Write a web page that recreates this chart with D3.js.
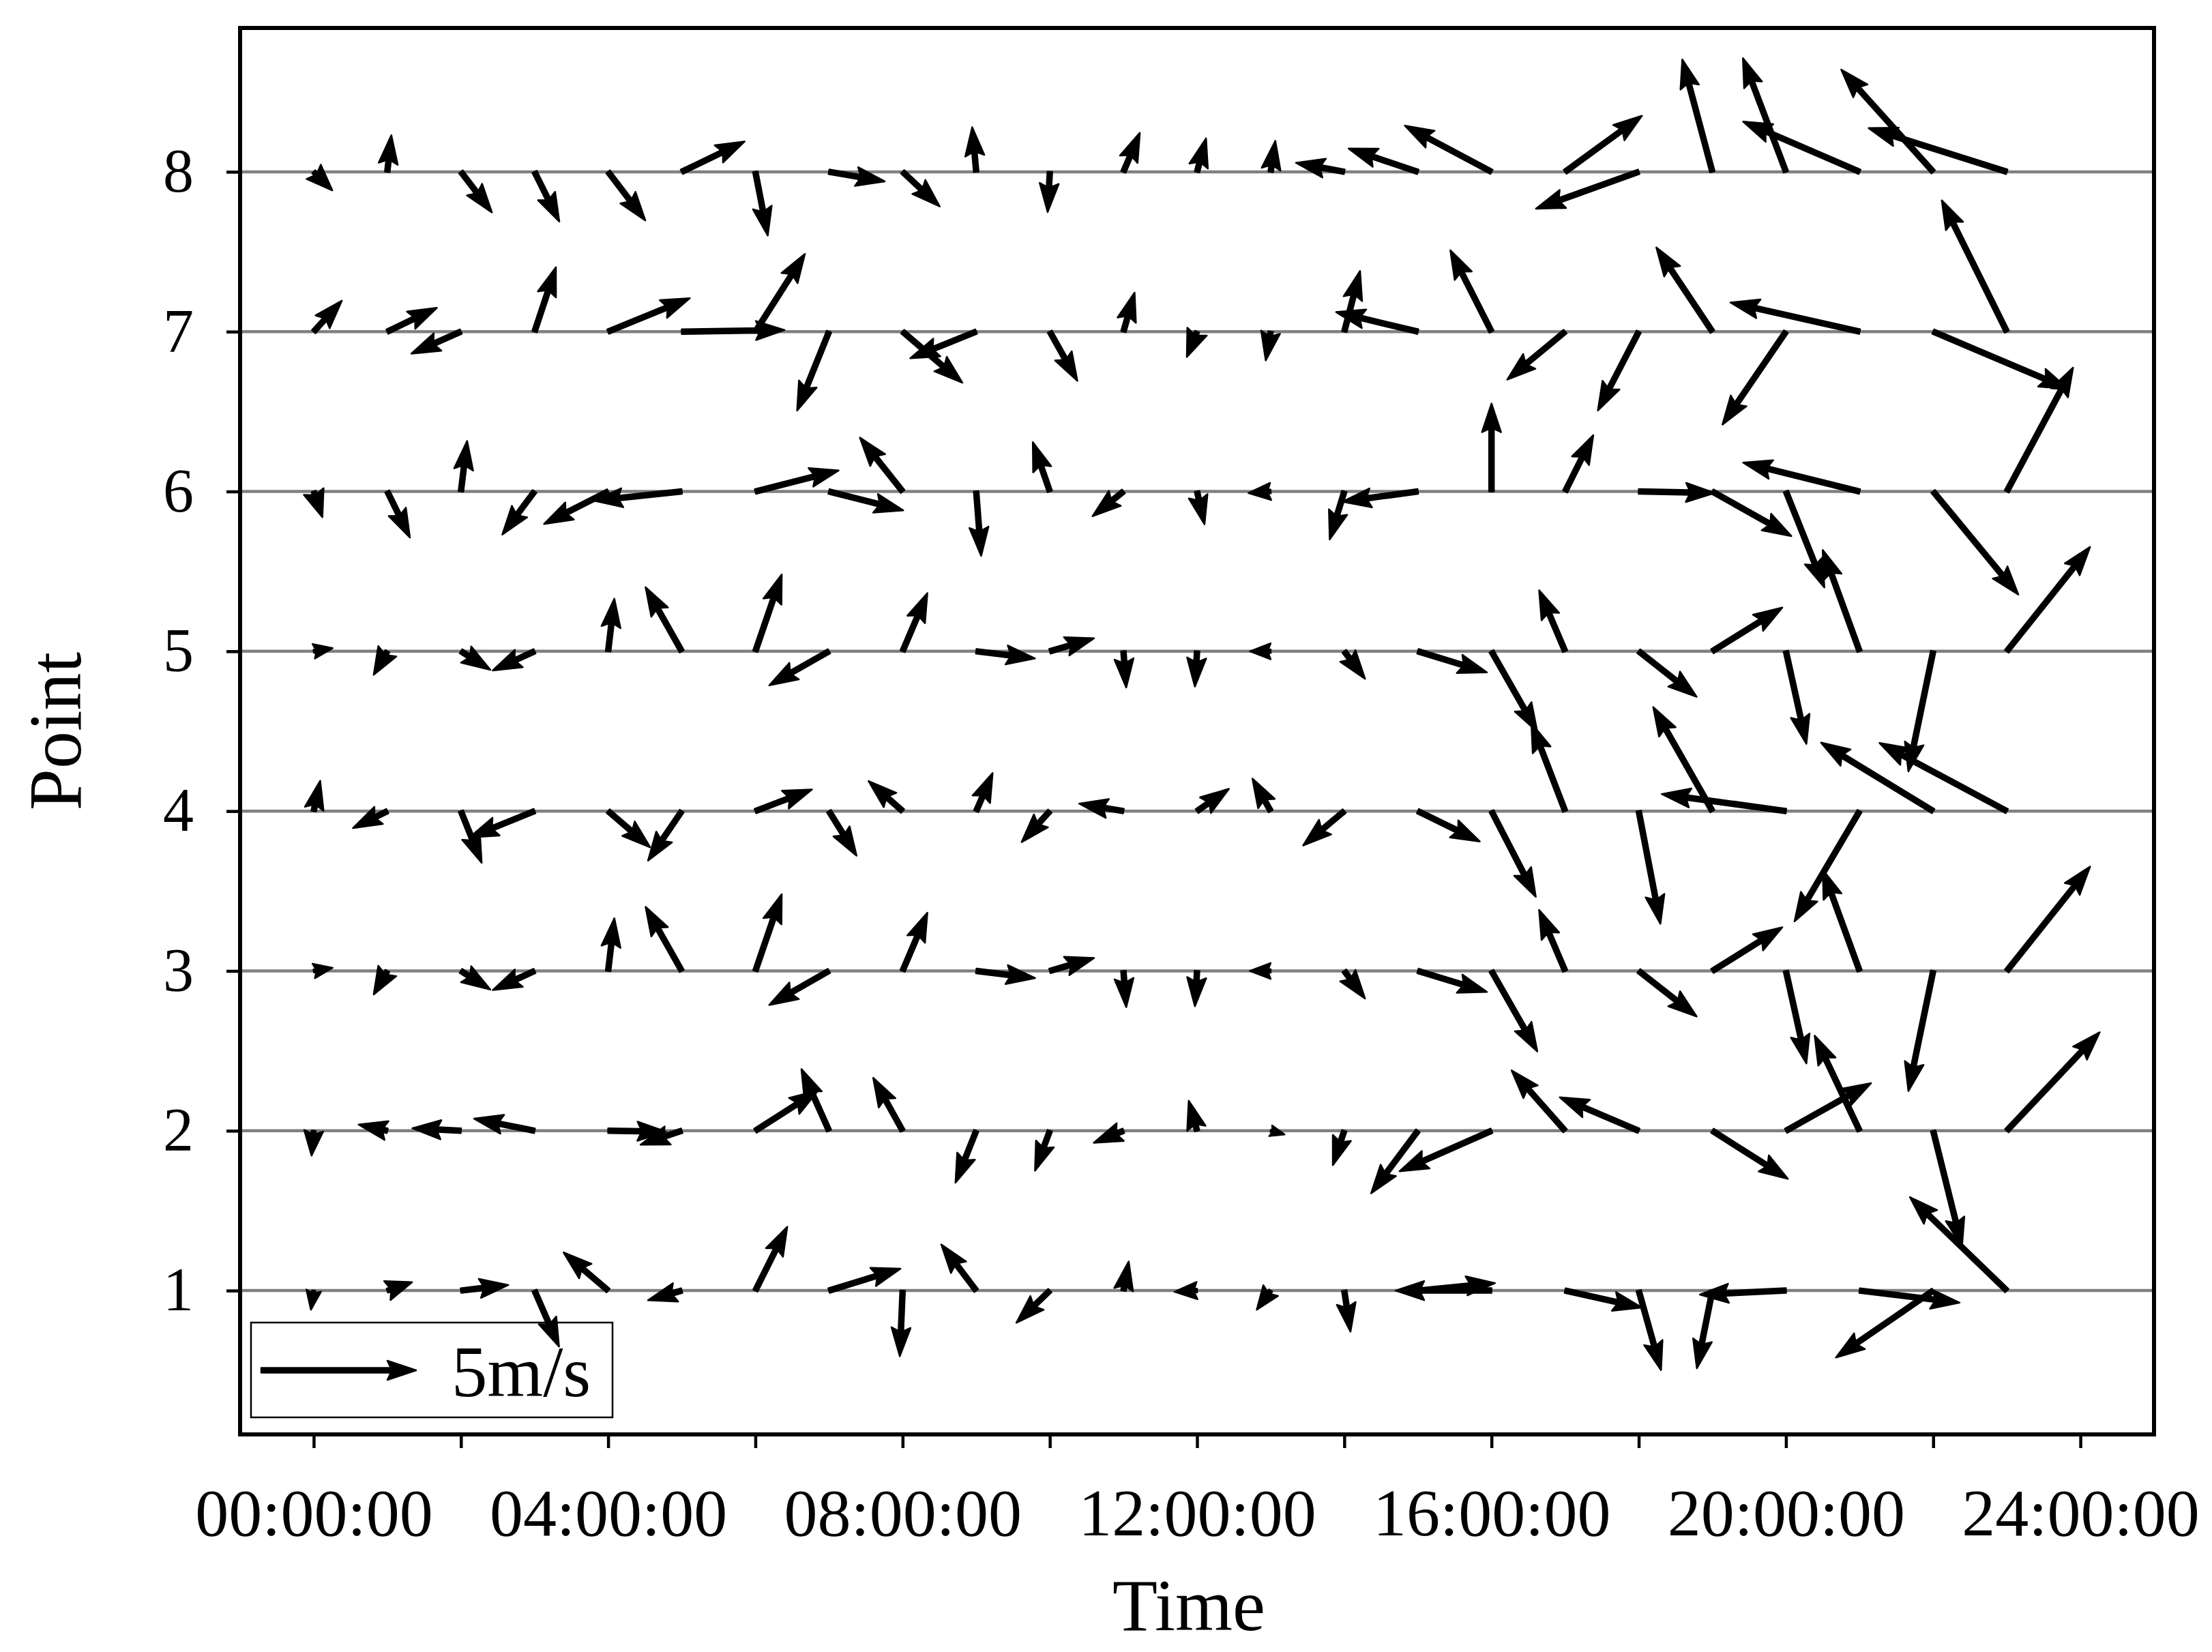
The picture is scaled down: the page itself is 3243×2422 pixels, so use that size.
<!DOCTYPE html>
<html>
<head>
<meta charset="utf-8">
<script src="https://cdn.jsdelivr.net/npm/d3@7"></script>
<style>
body{margin:0;background:#fff}
text{font-family:"Liberation Serif","Times New Roman",serif;fill:#000}
</style>
</head>
<body>
<svg></svg>
<script>
// hours along x, observation points along y
const hours = [0,1,2,3,4,5,6,7,8,9,10,11,12,13,14,15,16,17,18,19,20,21,22,23];
const points = [1,2,3,4,5,6,7,8];
const tickHours = [0,2,4,6,8,10,12,14,16,18,20,22,24];
const labelHours = [0,4,8,12,16,20,24];
const keySpeed = 5;

// wind components (m/s), one value per hour
const u8 = [0.6,0.13,1.0,0.8,1.2,2.03,0.4,1.8,1.2,-0.13,-0.07,0.53,0.29,0.15,-1.56,-2.24,-2.8,2.48,-3.32,-0.97,-1.39,-3.76,-2.97,-4.46];
const v8 = [-0.6,1.18,-1.31,-1.61,-1.57,0.98,-2.06,-0.31,-1.12,1.44,-1.3,1.26,1.08,1.0,0.29,0.75,1.49,1.81,-1.19,3.63,3.67,1.62,3.3,1.41];
const u7 = [0.91,1.6,-1.6,0.69,2.64,3.32,1.6,-1.03,1.93,-2.13,0.89,0.36,-0.33,-0.16,0.51,-2.64,-1.33,-1.87,-1.32,-1.81,-2.05,-4.17,4.36,-2.1];
const v7 = [1.0,0.77,-0.71,2.08,1.08,0.05,2.51,-2.55,-1.65,-0.86,-1.59,1.26,-0.82,-0.93,1.96,0.63,2.63,-1.55,-2.55,2.72,-3.0,0.94,-1.85,4.24];
const u6 = [0.28,0.73,0.2,-1.04,-2.07,-2.84,2.69,2.4,-1.38,0.16,-0.55,-1.0,0.24,-0.72,-0.47,-2.44,0.0,0.91,2.45,2.55,1.24,-3.76,2.75,2.14];
const v6 = [-0.83,-1.49,1.63,-1.39,-1.05,-0.3,0.68,-0.61,1.74,-2.08,1.59,-0.8,-1.06,-0.05,-1.55,-0.33,2.84,1.82,-0.05,-1.44,-3.1,0.93,-3.33,4.0];
const u5 = [0.61,-0.44,0.95,-1.35,0.2,-1.17,0.85,-1.93,0.8,1.9,1.43,0.09,-0.07,-0.67,0.67,2.23,1.48,-0.84,1.87,2.26,0.66,-1.19,-0.8,2.69];
const v5 = [0.1,-0.76,-0.6,-0.62,1.7,2.07,2.48,-1.1,1.88,-0.23,0.42,-1.17,-1.14,0.0,-0.89,-0.68,-2.6,1.97,-1.47,1.41,-2.99,3.27,-3.88,3.37];
const u4 = [0.21,-1.11,0.67,-2.1,1.36,-1.09,1.83,0.89,-1.1,0.53,-0.91,-1.43,1.03,-0.59,-1.33,2.0,1.43,-1.09,0.7,-1.91,-4.01,-2.1,-3.62,-4.11];
const v4 = [0.98,-0.55,-1.67,-0.85,-1.17,-1.6,0.7,-1.44,0.97,1.23,-1.0,0.24,0.72,1.05,-1.11,-0.98,-2.77,2.84,-3.64,3.36,0.55,-3.56,2.21,2.2];
const u3 = [0.61,-0.44,0.95,-1.35,0.2,-1.17,0.85,-1.93,0.8,1.9,1.43,0.09,-0.07,-0.67,0.67,2.23,1.48,-0.84,1.87,2.26,0.66,-1.19,-0.8,2.69];
const v3 = [0.1,-0.76,-0.6,-0.62,1.7,2.07,2.48,-1.1,1.88,-0.23,0.42,-1.17,-1.14,0.0,-0.89,-0.68,-2.6,1.97,-1.47,1.41,-2.99,3.27,-3.88,3.37];
const u2 = [-0.07,-0.93,-1.57,-1.95,1.87,-1.33,2.03,-0.89,-0.95,-0.67,-0.48,-0.96,-0.27,0.45,-0.37,-1.51,-2.97,-1.73,-2.55,2.44,2.75,-1.45,0.93,3.0];
const v2 = [-0.8,0.2,0.08,0.39,-0.03,-0.45,1.3,1.99,1.71,-1.68,-1.29,-0.39,0.97,-0.12,-1.11,-2.02,-1.31,1.95,1.08,-1.55,1.54,3.07,-3.74,3.18];
const u1 = [-0.09,0.8,1.53,0.79,-1.44,-1.09,1.03,2.31,-0.09,-1.13,-1.08,0.17,-0.73,-0.45,0.2,2.49,-3.1,2.48,0.72,-0.5,-2.78,3.23,-3.14,-3.13];
const v1 = [-0.62,0.27,0.18,-1.81,1.23,-0.31,2.06,0.71,-2.12,1.49,-1.04,0.94,-0.04,-0.62,-1.33,0.24,0.0,-0.55,-2.57,-2.51,-0.13,-0.39,-2.16,3.02];

const U = {1:u1,2:u2,3:u3,4:u4,5:u5,6:u6,7:u7,8:u8};
const V = {1:v1,2:v2,3:v3,4:v4,5:v5,6:v6,7:v7,8:v8};

const W = 3243, H = 2422;
const pL = 352, pR = 3158, pT = 41, pB = 2103;

const svg = d3.select('svg').attr('width', W).attr('height', H);
svg.append('rect').attr('width', W).attr('height', H).attr('fill', '#fff');

const x = d3.scaleLinear().domain([-1, 25]).range([pL, pR]);
const y = d3.scaleLinear().domain([0.1, 8.9]).range([pB, pT]);
// quiver length scale: 5 m/s -> key arrow length
const len = d3.scaleLinear().domain([0, 5]).range([0, 227]);

// grid lines at each point
svg.append('g').selectAll('line')
  .data(points).enter().append('line')
  .attr('x1', pL).attr('x2', pR)
  .attr('y1', d => y(d)).attr('y2', d => y(d))
  .attr('stroke', '#808080').attr('stroke-width', 4.5);

// arrow polygon like matplotlib quiver (tail at origin, pointing +x)
const shaftW = 7, headL = 42, headAx = 37, headW = 28;
function arrowPts(L) {
  if (L < headL) {
    // short vectors: whole arrow shrinks to a head
    const s = L / headL, hw = headW / 2 * s * 1.15;
    return [[0, shaftW/2*s], [(headL-headAx)*s, shaftW/2*s], [0, hw], [headL*s, 0],
            [0, -hw], [(headL-headAx)*s, -shaftW/2*s], [0, -shaftW/2*s]];
  }
  return [[0, shaftW/2], [L-headAx, shaftW/2], [L-headL, headW/2], [L, 0],
          [L-headL, -headW/2], [L-headAx, -shaftW/2], [0, -shaftW/2]];
}

const vecs = [];
points.forEach(p => {
  hours.forEach((h, i) => vecs.push({h: h, p: p, u: U[p][i], v: V[p][i]}));
});

function drawArrows(g, data) {
  g.selectAll('polygon')
    .data(data).enter().append('polygon')
    .attr('points', d => arrowPts(len(Math.hypot(d.u, d.v))).map(q => q.join(',')).join(' '))
    .attr('transform', d => {
      const ang = Math.atan2(-d.v, d.u) * 180 / Math.PI;
      return 'translate(' + x(d.h) + ',' + y(d.p) + ') rotate(' + ang + ')';
    })
    .attr('fill', '#000').attr('stroke', '#000')
    .attr('stroke-width', 2.5).attr('stroke-linejoin', 'round');
}

// legend box (under arrows)
const lg = svg.append('g');
lg.append('rect').attr('x', 368).attr('y', 1939).attr('width', 530).attr('height', 139)
  .attr('fill', 'none').attr('stroke', '#000').attr('stroke-width', 2.5);

drawArrows(svg.append('g'), vecs);

// key arrow: 5 m/s, inside legend box
const keyX = 383, keyY = 2009;
lg.append('polygon')
  .attr('points', arrowPts(len(keySpeed)).map(q => q.join(',')).join(' '))
  .attr('transform', 'translate(' + keyX + ',' + keyY + ')')
  .attr('fill', '#000').attr('stroke', '#000').attr('stroke-width', 2.5).attr('stroke-linejoin', 'round');
lg.append('text').attr('x', 662).attr('y', 2047)
  .attr('font-size', 105).text(keySpeed + 'm/s');

// axes
const xAxis = d3.axisBottom(x)
  .tickValues(tickHours)
  .tickSize(20).tickPadding(58)
  .tickFormat(d => labelHours.includes(d) ? String(d).padStart(2, '0') + ':00:00' : '');
const gx = svg.append('g').attr('transform', 'translate(0,' + pB + ')').call(xAxis);
gx.select('.domain').remove();
gx.selectAll('line').attr('stroke', '#000').attr('stroke-width', 4.5);
gx.selectAll('text').attr('font-size', 98).attr('font-family', '"Liberation Serif",serif');

const yAxis = d3.axisLeft(y).tickValues(points).tickSize(20).tickPadding(48).tickFormat(d3.format('d'));
const gy = svg.append('g').attr('transform', 'translate(' + pL + ',0)').call(yAxis);
gy.select('.domain').remove();
gy.selectAll('line').attr('stroke', '#000').attr('stroke-width', 4.5);
gy.selectAll('text').attr('font-size', 90).attr('font-family', '"Liberation Serif",serif');

// frame
svg.append('rect').attr('x', pL).attr('y', pT)
  .attr('width', pR - pL).attr('height', pB - pT)
  .attr('fill', 'none').attr('stroke', '#000').attr('stroke-width', 6);

// axis titles
svg.append('text').attr('x', 1743).attr('y', 2390)
  .attr('text-anchor', 'middle').attr('font-size', 108).text('Time');
svg.append('text').attr('transform', 'translate(118,' + ((pT + pB) / 2) + ') rotate(-90)')
  .attr('text-anchor', 'middle').attr('font-size', 110).text('Point');
</script>
</body>
</html>
